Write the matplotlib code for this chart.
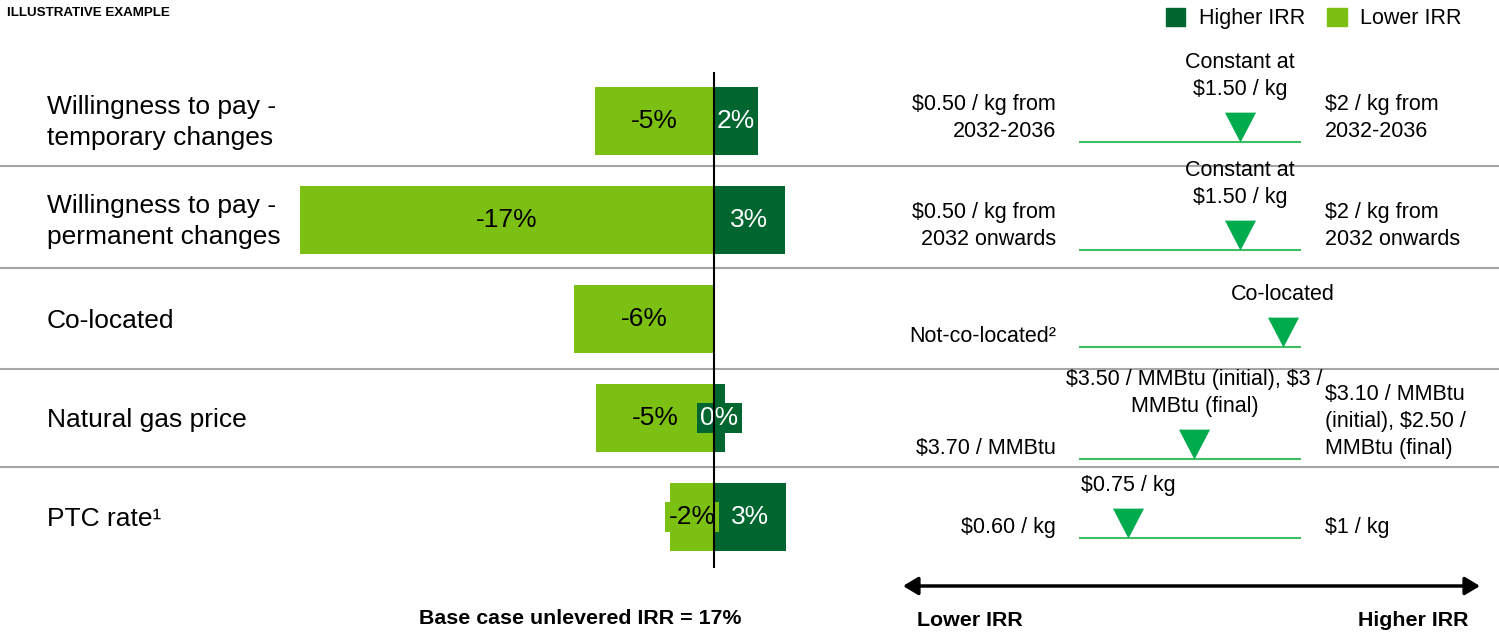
import numpy as np
import matplotlib.pyplot as plt
from matplotlib.patches import Patch, FancyArrowPatch

plt.rcParams['font.family'] = ['Liberation Sans', 'DejaVu Sans']

# Factores analizados y variación de la TIR (puntos porcentuales)
factores = ['Willingness to pay -\ntemporary changes',
            'Willingness to pay -\npermanent changes',
            'Co-located',
            'Natural gas price',
            'PTC rate¹']
tirMenor = [-4.9, -17.0, -5.75, -4.85, -1.8]
tirMayor = [1.8, 2.9, np.nan, 0.45, 2.95]

# Supuestos de cada escenario
casoBajo = ['$0.50 / kg from\n2032-2036', '$0.50 / kg from\n2032 onwards',
            'Not-co-located²', '$3.70 / MMBtu', '$0.60 / kg']
casoAlto = ['$2 / kg from\n2032-2036', '$2 / kg from\n2032 onwards', '',
            '$3.10 / MMBtu\n(initial), $2.50 /\nMMBtu (final)', '$1 / kg']
casoBase = ['Constant at\n$1.50 / kg', 'Constant at\n$1.50 / kg', 'Co-located',
            '$3.50 / MMBtu (initial), $3 /\nMMBtu (final)', '$0.75 / kg']
posicionBase = [0.725, 0.725, 0.92, 0.52, 0.22]

# Colores
verdeOscuro = '#00662F'
verdeClaro = '#7DC014'
verdeMarca = '#00AB4E'
verdeLinea = '#3DBE62'
gris = '#A6A6A6'

# Disposición en píxeles
W, H = 1499, 633
pxFila = 99
filaCero = 121
arriba, abajo = 62, 572
ejeY0 = 1 - abajo / H
ejeAlto = (abajo - arriba) / H
limY = ((abajo - filaCero) / pxFila, (arriba - filaCero) / pxFila)
caidaSlider = [21, 30, 28, 41, 21]
separadores = [0.45, 1.48, 2.5, 3.49]
pxPorPunto = 24.35
ceroPx = 714
pt = 0.72  # puntos por píxel a 100 dpi

fig = plt.figure(figsize=(W / 100, H / 100), dpi=100)

# Fondo: separadores y nombres de los factores
fondo = fig.add_axes([0, ejeY0, 1, ejeAlto])
fondo.set_xlim(0, 1)
fondo.set_ylim(limY)
fondo.axis('off')
for y in separadores:
    fondo.axhline(y, color=gris, lw=1.5)
filas = np.arange(len(factores))
for i, nombre in enumerate(factores):
    fondo.text(47 / W, i + 0.02, nombre, ha='left', va='center', fontsize=19,
               linespacing=1.37)

# Gráfico de tornado
ax = fig.add_axes([0, ejeY0, 880 / W, ejeAlto])
ax.set_xlim(-ceroPx / pxPorPunto, (880 - ceroPx) / pxPorPunto)
ax.set_ylim(limY)
ax.axis('off')
ax.barh(filas, tirMenor, height=0.69, color=verdeClaro, zorder=2)
ax.barh(filas, np.nan_to_num(tirMayor), height=0.69, color=verdeOscuro, zorder=2)
ax.vlines(0, -0.495, 4.515, color='black', lw=1.5, zorder=5)

for i, (bajo, alto) in enumerate(zip(tirMenor, tirMayor)):
    ax.text(bajo / 2, i, f'{bajo:.0f}%', ha='center', va='center', fontsize=19,
            color='black', zorder=4,
            bbox=dict(facecolor=verdeClaro, edgecolor='none', pad=2.5))
    if not np.isnan(alto):
        ax.text(alto / 2, i, f'{alto:.0f}%', ha='center', va='center', fontsize=19,
                color='white', zorder=4,
                bbox=dict(facecolor=verdeOscuro, edgecolor='none', pad=2.5))

# Rangos de los supuestos
sl = fig.add_axes([1079 / W, ejeY0, 222 / W, ejeAlto])
sl.set_xlim(0, 1)
sl.set_ylim(limY)
sl.axis('off')
triangulo = [(0, 0), (-0.52, 1), (0.52, 1)]
estiloTexto = dict(textcoords='offset points', fontsize=15.5, linespacing=1.37,
                   parse_math=False)
for i in filas:
    y = i + caidaSlider[i] / pxFila
    sl.hlines(y, 0, 1, color=verdeLinea, lw=1.5)
    sl.plot(posicionBase[i], y, marker=triangulo, ms=43, color=verdeMarca,
            mew=0, clip_on=False)
    sl.annotate(casoBase[i], (posicionBase[i], y), xytext=(0, 42 * pt),
                ha='center', va='bottom', **estiloTexto)
    sl.annotate(casoBajo[i], (0, y), xytext=(-23 * pt, 0),
                ha='right', va='bottom', **estiloTexto)
    if casoAlto[i]:
        sl.annotate(casoAlto[i], (1, y), xytext=(24 * pt, 0),
                    ha='left', va='bottom', **estiloTexto)

# Leyenda
fig.legend(handles=[Patch(color=verdeOscuro, label='Higher IRR'),
                    Patch(color=verdeClaro, label='Lower IRR')],
           loc='upper right', bbox_to_anchor=(1462 / W, 1 - 8 / H), ncol=2,
           frameon=False, fontsize=15.5, handlelength=0.9, handleheight=0.9,
           handletextpad=0.65, columnspacing=1.0, borderpad=0, borderaxespad=0)

# Textos y flecha inferior
fig.text(7 / W, 1 - 13 / H, 'ILLUSTRATIVE EXAMPLE', fontsize=9.6,
         weight='bold', va='center')
fig.text(580 / W, 1 - 619 / H, 'Base case unlevered IRR = 17%', ha='center',
         va='center', fontsize=15.4, weight='bold')
fig.text(917 / W, 1 - 620 / H, 'Lower IRR', ha='left', va='center',
         fontsize=15.4, weight='bold')
fig.text(1468 / W, 1 - 620 / H, 'Higher IRR', ha='right', va='center',
         fontsize=15.4, weight='bold')
fig.add_artist(FancyArrowPatch(
    (903 / W, 1 - 586 / H), (1480 / W, 1 - 586 / H), transform=fig.transFigure,
    arrowstyle='<|-|>,head_length=0.5,head_width=0.3', mutation_scale=18,
    lw=2.5, color='black', shrinkA=0, shrinkB=0))

fig.savefig('out.png', dpi=100)
